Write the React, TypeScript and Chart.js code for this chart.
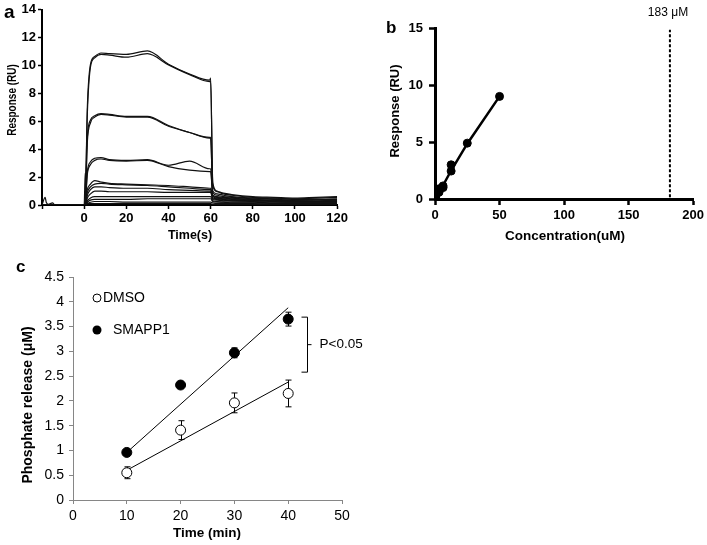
import React, { useEffect, useRef } from 'react';
import { Chart, registerables } from 'chart.js';
Chart.register(...registerables);

const FONT = '"Liberation Sans", Arial, Helvetica, sans-serif';

// ---------- Panel a: SPR sensorgrams ----------
const timeS = [-20, -18.5, -18, -17, -15, -14, 0, 0.5, 1.5, 3, 5, 8, 12, 20, 30, 40, 50, 59.5, 60, 61, 63, 66, 70, 80, 90, 100, 110, 120];
const curve1 = [0, 0, 0, 0, 0, 0, 0, 0.3, 7.0, 10.1, 10.65, 10.9, 10.85, 10.8, 11.05, 10.1, 9.4, 8.95, 9.1, 1.6, 1.0, 0.85, 0.75, 0.6, 0.55, 0.5, 0.55, 0.6];
const curve2 = [0, 0, 0, 0, 0, 0, 0, 0.3, 6.5, 9.9, 10.55, 10.8, 10.75, 10.6, 10.85, 10.05, 9.35, 8.85, 8.9, 1.4, 0.95, 0.8, 0.7, 0.55, 0.5, 0.45, 0.5, 0.55];
const curve3 = [0, 0, 0, 0, 0, 0, 0, 0.2, 4.8, 6.1, 6.4, 6.55, 6.5, 6.35, 6.35, 5.7, 5.2, 4.85, 4.85, 1.0, 0.8, 0.7, 0.6, 0.5, 0.45, 0.4, 0.4, 0.45];
const curve4 = [0, 0, 0, 0, 0, 0, 0, 0.2, 4.5, 5.9, 6.3, 6.5, 6.45, 6.3, 6.3, 5.65, 5.2, 4.8, 4.8, 0.9, 0.7, 0.6, 0.55, 0.45, 0.4, 0.35, 0.4, 0.4];
const curve5 = [0, 0, 0, 0, 0, 0, 0, 0.1, 2.2, 2.9, 3.2, 3.3, 3.2, 3.15, 3.2, 2.75, 2.5, 2.4, 2.4, 0.7, 0.6, 0.55, 0.5, 0.4, 0.35, 0.3, 0.3, 0.35];
const curve6 = [0, 0, 0, 0, 0, 0, 0, 0.1, 2.4, 3.1, 3.35, 3.4, 3.25, 3.2, 3.25, 2.85, 3.15, 2.6, 2.6, 0.65, 0.55, 0.5, 0.45, 0.35, 0.3, 0.3, 0.3, 0.3];
const curve7 = [0, 0, 0, 0, 0, 0, 0, 0.1, 1.1, 1.5, 1.75, 1.65, 1.55, 1.5, 1.45, 1.4, 1.3, 1.2, 1.2, 0.6, 0.5, 0.45, 0.4, 0.35, 0.3, 0.3, 0.25, 0.3];
const curve8 = [0, 0, 0, 0, 0, 0, 0, 0.1, 0.9, 1.3, 1.5, 1.55, 1.5, 1.45, 1.4, 1.3, 1.2, 1.1, 1.1, 0.5, 0.45, 0.4, 0.35, 0.3, 0.3, 0.25, 0.25, 0.25];
const curve9 = [0, 0, 0, 0, 0, 0, 0, 0.05, 0.7, 1.1, 1.3, 1.3, 1.25, 1.2, 1.2, 1.1, 1.05, 1.0, 1.0, 0.45, 0.4, 0.35, 0.3, 0.3, 0.25, 0.2, 0.2, 0.2];
const curve10 = [0, 0, 0, 0, 0, 0, 0, 0.05, 0.5, 0.8, 1.0, 1.0, 0.95, 0.95, 0.95, 0.9, 0.9, 0.9, 0.9, 0.4, 0.35, 0.3, 0.3, 0.25, 0.2, 0.2, 0.2, 0.2];
const curve11 = [0, 0, 0, 0, 0, 0, 0, 0, 0.3, 0.5, 0.6, 0.6, 0.6, 0.6, 0.6, 0.6, 0.6, 0.6, 0.6, 0.3, 0.25, 0.2, 0.2, 0.2, 0.15, 0.15, 0.15, 0.15];
const curve12 = [0, 0, 0, 0, 0, 0, 0, 0, 0.2, 0.35, 0.4, 0.4, 0.4, 0.4, 0.45, 0.45, 0.45, 0.45, 0.45, 0.25, 0.2, 0.2, 0.15, 0.15, 0.1, 0.1, 0.1, 0.1];
const curve13 = [0, 0, 0, 0, 0, 0, 0, 0, 0.1, 0.2, 0.25, 0.25, 0.25, 0.2, 0.2, 0.2, 0.2, 0.2, 0.2, 0.15, 0.1, 0.1, 0.1, 0.1, 0.05, 0.05, 0.05, 0.05];
const curve14 = [0, 0.55, 0.2, 0.05, 0.15, 0, 0, 2.3, 0.1, 0.1, 0.1, 0.1, 0.1, 0.1, 0.1, 0.1, 0.1, 0.1, 0.1, 0.05, 0.05, 0.05, 0.05, 0.05, 0.05, 0.05, 0.05, 0.05];
const sprCurves = [curve1, curve2, curve3, curve4, curve5, curve6, curve7, curve8, curve9, curve10, curve11, curve12, curve13, curve14];

// ---------- Panel b: steady-state response ----------
const concUM = [0.39, 0.78, 1.56, 1.56, 3.125, 3.125, 6.25, 6.25, 12.5, 12.5, 25, 50];
const respRU = [0.1, 0.3, 0.8, 0.5, 0.6, 0.9, 1.0, 1.15, 2.45, 3.0, 4.9, 9.0];
const fitConc = [0, 3.125, 6.25, 12.5, 25, 50];
const fitResp = [0, 0.65, 1.2, 2.5, 4.85, 9.0];
const kdConc = 182;
const kdRange = [0.15, 14.85];
const kdLabel = '183 μM';

// ---------- Panel c: phosphate release ----------
const timeMin = [10, 20, 30, 40];
const dmso = [0.55, 1.41, 1.96, 2.15];
const dmsoErr = [0.12, 0.19, 0.2, 0.27];
const smapp1 = [0.96, 2.32, 2.97, 3.65];
const smapp1Err = [0.03, 0.03, 0.1, 0.14];
const fitTime = [10, 40];
const dmsoFit = [0.6, 2.38];
const smapp1Fit = [0.96, 3.88];

function pts(xs: number[], ys: number[]) {
  return xs.map((x, i) => ({ x, y: ys[i] }));
}

function txt(ctx: CanvasRenderingContext2D, s: string, x: number, y: number, font: string,
  align: CanvasTextAlign = 'center', baseline: CanvasTextBaseline = 'middle', rot = 0, sx = 1) {
  ctx.save();
  ctx.translate(x, y);
  if (rot) ctx.rotate(rot);
  if (sx !== 1) ctx.scale(sx, 1);
  ctx.font = font;
  ctx.fillStyle = '#000';
  ctx.textAlign = align;
  ctx.textBaseline = baseline;
  ctx.fillText(s, 0, 0);
  ctx.restore();
}

function axisOpts(o: any) {
  return {
    type: 'linear',
    min: o.min,
    max: o.max,
    ticks: {
      stepSize: o.step,
      autoSkip: false,
      maxRotation: 0,
      padding: o.pad,
      color: '#000',
      font: { family: FONT, size: o.size, weight: o.weight },
      callback: o.cb || ((v: number) => String(v)),
    },
    grid: { drawOnChartArea: false, drawTicks: true, tickLength: o.tl, tickColor: o.color, tickWidth: o.tw },
    border: { display: true, color: o.color, width: o.bw },
    afterFit: o.fit,
  };
}

function configA(): any {
  return {
    type: 'scatter',
    data: {
      datasets: sprCurves.map((c) => ({
        data: pts(timeS, c),
        showLine: true,
        borderColor: '#111',
        borderWidth: 1.2,
        pointRadius: 0,
        cubicInterpolationMode: 'monotone',
      })),
    },
    options: {
      responsive: false,
      animation: false,
      layout: { padding: { top: 9, right: 12, left: 0, bottom: 0 } },
      plugins: { legend: { display: false }, tooltip: { enabled: false } },
      scales: {
        x: axisOpts({ min: -20, max: 120, step: 20, pad: 2, size: 13, weight: 'bold', tl: 4, tw: 1.5, bw: 2, color: '#000',
          cb: (v: number) => (v < 0 ? '' : String(v)), fit: (s: any) => { s.height = 45; } }),
        y: axisOpts({ min: 0, max: 14, step: 2, pad: 2, size: 13, weight: 'bold', tl: 4, tw: 1.5, bw: 2, color: '#000',
          fit: (s: any) => { s.width = 42; } }),
      },
    },
    plugins: [{
      id: 'decoA',
      afterDraw(chart: any) {
        const ctx = chart.ctx;
        txt(ctx, 'a', 4, 18, `bold 19px ${FONT}`, 'left', 'alphabetic');
        txt(ctx, 'Time(s)', 190, 236, `bold 12.5px ${FONT}`);
        txt(ctx, 'Response (RU)', 13, 100, `bold 12.5px ${FONT}`, 'center', 'middle', -Math.PI / 2, 0.8);
      },
    }],
  };
}

function configB(): any {
  return {
    type: 'scatter',
    data: {
      datasets: [
        { data: pts(concUM, respRU), pointRadius: 4, backgroundColor: '#000', borderColor: '#000', order: 0 },
        { data: pts(fitConc, fitResp), showLine: true, pointRadius: 0, borderColor: '#000', borderWidth: 2.5, order: 1 },
        { data: pts([kdConc, kdConc], kdRange), showLine: true, pointRadius: 0, borderColor: '#000', borderWidth: 2, borderDash: [3, 2], order: 2 },
      ],
    },
    options: {
      responsive: false,
      animation: false,
      layout: { padding: { top: 28, right: 13, left: 0, bottom: 0 } },
      plugins: { legend: { display: false }, tooltip: { enabled: false } },
      scales: {
        x: axisOpts({ min: 0, max: 200, step: 50, pad: 3, size: 13, weight: 'bold', tl: 6, tw: 2.5, bw: 3, color: '#000',
          fit: (s: any) => { s.height = 51; } }),
        y: axisOpts({ min: 0, max: 15, step: 5, pad: 6, size: 13, weight: 'bold', tl: 6, tw: 2.5, bw: 3, color: '#000',
          fit: (s: any) => { s.width = 75; } }),
      },
    },
    plugins: [{
      id: 'decoB',
      afterDraw(chart: any) {
        const ctx = chart.ctx;
        txt(ctx, 'b', 26, 33, `bold 17px ${FONT}`, 'left', 'alphabetic');
        txt(ctx, 'Concentration(uM)', 205, 236, `bold 13.5px ${FONT}`);
        txt(ctx, 'Response (RU)', 35, 111, `bold 13px ${FONT}`, 'center', 'middle', -Math.PI / 2);
        txt(ctx, kdLabel, 308, 13, `12px ${FONT}`);
      },
    }],
  };
}

function configC(): any {
  return {
    type: 'scatter',
    data: {
      datasets: [
        { label: 'DMSO', data: pts(timeMin, dmso), pointRadius: 5, backgroundColor: '#fff', borderColor: '#000', borderWidth: 1, order: 0 },
        { label: 'SMAPP1', data: pts(timeMin, smapp1), pointRadius: 5, backgroundColor: '#000', borderColor: '#000', borderWidth: 1, order: 0 },
        { data: pts(fitTime, dmsoFit), showLine: true, pointRadius: 0, borderColor: '#000', borderWidth: 1, order: 1 },
        { data: pts(fitTime, smapp1Fit), showLine: true, pointRadius: 0, borderColor: '#000', borderWidth: 1, order: 1 },
      ],
    },
    options: {
      responsive: false,
      animation: false,
      layout: { padding: { top: 27, right: 58, left: 0, bottom: 0 } },
      plugins: { legend: { display: false }, tooltip: { enabled: false } },
      scales: {
        x: axisOpts({ min: 0, max: 50, step: 10, pad: 4, size: 14, weight: 'normal', tl: 4, tw: 1, bw: 1, color: '#868686',
          fit: (s: any) => { s.height = 45; } }),
        y: axisOpts({ min: 0, max: 4.5, step: 0.5, pad: 5, size: 14, weight: 'normal', tl: 4, tw: 1, bw: 1, color: '#868686',
          fit: (s: any) => { s.width = 73; } }),
      },
    },
    plugins: [{
      id: 'errC',
      beforeDatasetsDraw(chart: any) {
        const ctx = chart.ctx;
        const xs = chart.scales.x, ys = chart.scales.y;
        ctx.save();
        ctx.strokeStyle = '#000';
        ctx.lineWidth = 1;
        const draw = (vals: number[], errs: number[]) => {
          timeMin.forEach((t, i) => {
            const px = Math.round(xs.getPixelForValue(t)) + 0.5;
            const y1 = ys.getPixelForValue(vals[i] + errs[i]);
            const y2 = ys.getPixelForValue(vals[i] - errs[i]);
            ctx.beginPath();
            ctx.moveTo(px, y1); ctx.lineTo(px, y2);
            ctx.moveTo(px - 3, y1); ctx.lineTo(px + 3, y1);
            ctx.moveTo(px - 3, y2); ctx.lineTo(px + 3, y2);
            ctx.stroke();
          });
        };
        draw(dmso, dmsoErr);
        draw(smapp1, smapp1Err);
        ctx.restore();
      },
    }, {
      id: 'decoC',
      afterDraw(chart: any) {
        const ctx = chart.ctx;
        txt(ctx, 'c', 16, 22, `bold 17px ${FONT}`, 'left', 'alphabetic');
        txt(ctx, 'Time (min)', 207, 283, `bold 13.5px ${FONT}`);
        txt(ctx, 'Phosphate release (μM)', 28, 155, `bold 14px ${FONT}`, 'center', 'middle', -Math.PI / 2);
        // legend
        ctx.save();
        ctx.lineWidth = 1;
        ctx.strokeStyle = '#000';
        ctx.fillStyle = '#fff';
        ctx.beginPath(); ctx.arc(97, 48, 4, 0, Math.PI * 2); ctx.fill(); ctx.stroke();
        ctx.fillStyle = '#000';
        ctx.beginPath(); ctx.arc(97, 80, 4.5, 0, Math.PI * 2); ctx.fill();
        ctx.restore();
        txt(ctx, 'DMSO', 103, 48, `14px ${FONT}`, 'left');
        txt(ctx, 'SMAPP1', 113, 80, `14px ${FONT}`, 'left');
        // significance bracket
        const xs = chart.scales.x, ys = chart.scales.y;
        const bx = Math.round(xs.getPixelForValue(43.5)) + 0.5;
        const yTop = ys.getPixelForValue(3.69);
        const yBot = ys.getPixelForValue(2.58);
        const yMid = (yTop + yBot) / 2;
        ctx.save();
        ctx.strokeStyle = '#000';
        ctx.lineWidth = 1;
        ctx.beginPath();
        ctx.moveTo(bx - 6, yTop); ctx.lineTo(bx, yTop); ctx.lineTo(bx, yBot); ctx.lineTo(bx - 6, yBot);
        ctx.moveTo(bx, yMid); ctx.lineTo(bx + 4, yMid);
        ctx.stroke();
        ctx.restore();
        txt(ctx, 'P<0.05', bx + 12, yMid, `13.5px ${FONT}`, 'left');
      },
    }],
  };
}

function Panel({ left, top, width, height, make }: { left: number; top: number; width: number; height: number; make: () => any }) {
  const ref = useRef<HTMLCanvasElement | null>(null);
  useEffect(() => {
    if (!ref.current) return;
    const chart = new Chart(ref.current, make());
    return () => chart.destroy();
  }, [make]);
  return (
    <canvas ref={ref} width={width} height={height}
      style={{ position: 'absolute', left, top, width, height, display: 'block' }} />
  );
}

export default function App() {
  return (
    <div style={{ position: 'absolute', left: 0, top: 0, width: 707, height: 545, background: '#fff', overflow: 'hidden' }}>
      <Panel left={0} top={0} width={350} height={250} make={configA} />
      <Panel left={360} top={0} width={347} height={250} make={configB} />
      <Panel left={0} top={250} width={400} height={295} make={configC} />
    </div>
  );
}
